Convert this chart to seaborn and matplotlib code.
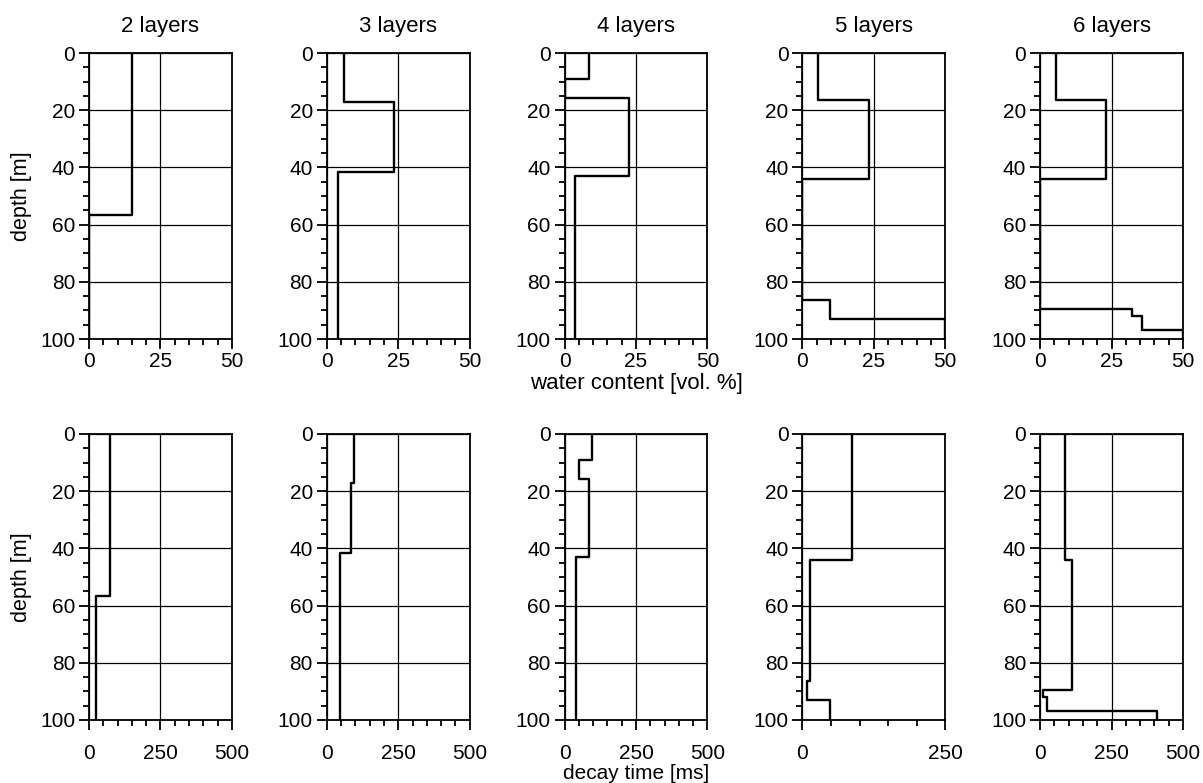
import numpy as np
import pandas as pd
import matplotlib
matplotlib.use("Agg")
import matplotlib.pyplot as plt
from matplotlib.ticker import MultipleLocator
import seaborn as sns

# layer models (depth of layer bottoms in m)
titles = ["2 layers", "3 layers", "4 layers", "5 layers", "6 layers"]

boundaries = [
    [56.5],
    [17.0, 41.6],
    [9.1, 15.6, 43.1],
    [16.5, 44.0, 86.5, 93.0],
    [16.5, 44.0, 89.4, 92.0, 97.0],
]

water = [
    [15.2, 0.0],
    [5.9, 23.5, 4.0],
    [8.7, 0.0, 22.7, 3.6],
    [5.6, 23.2, 0.0, 9.8, 50.0],
    [5.5, 23.2, 0.0, 32.3, 35.8, 50.0],
]

decay = [
    [74, 24],
    [95, 86, 46],
    [96, 50, 86, 39],
    [87, 87, 14, 8, 49],
    [88, 88, 110, 9, 24, 409],
]

decay_xmax = [500, 500, 500, 250, 500]
max_depth = 100

sns.set_style("ticks")
plt.rcParams['font.family'] = ['Liberation Sans', 'DejaVu Sans']
plt.rcParams['font.size'] = 15
plt.rcParams['axes.linewidth'] = 1.3
plt.rcParams['axes.edgecolor'] = 'black'
plt.rcParams['text.color'] = 'black'
plt.rcParams['axes.labelcolor'] = 'black'
plt.rcParams['xtick.color'] = 'black'
plt.rcParams['ytick.color'] = 'black'


def step_profile(values, bounds):
    # turn layer values + interfaces into a step path (value, depth)
    tops = [0] + list(bounds)
    bots = list(bounds) + [max_depth]
    xs, ys = [], []
    for v, t, b in zip(values, tops, bots):
        xs += [v, v]
        ys += [t, b]
    return pd.DataFrame({"value": xs, "depth": ys})


def style_axis(ax, xmax, xmajor, xminor, xpad):
    ax.set_xlim(0, xmax)
    ax.set_ylim(max_depth, 0)
    ax.xaxis.set_major_locator(MultipleLocator(xmajor))
    ax.xaxis.set_minor_locator(MultipleLocator(xminor))
    ax.yaxis.set_major_locator(MultipleLocator(20))
    ax.yaxis.set_minor_locator(MultipleLocator(5))
    ax.tick_params(which='major', length=7, width=1.3, color='black',
                   labelsize=15, labelcolor='black')
    ax.tick_params(which='minor', length=4, width=1.3, color='black')
    ax.tick_params(axis='y', which='major', pad=3)
    ax.tick_params(axis='x', which='major', pad=xpad)
    ax.grid(True, which='major', color='black', lw=0.9)
    for s in ax.spines.values():
        s.set_visible(True)
        s.set_color('black')
    ax.set_xlabel("")
    ax.set_ylabel("")


fig, axes = plt.subplots(2, 5, figsize=(12.03, 7.83), dpi=100)
fig.subplots_adjust(left=0.074, right=0.9834, top=0.9323, bottom=0.0805,
                    wspace=0.664, hspace=0.332)

for i in range(5):
    ax = axes[0, i]
    df = step_profile(water[i], boundaries[i])
    sns.lineplot(data=df, x="value", y="depth", sort=False, estimator=None,
                 color='black', lw=1.7, ax=ax)
    style_axis(ax, 50, 25, 5, 2)
    ax.set_title(titles[i], pad=15, fontsize=16, color='black')

    ax = axes[1, i]
    df = step_profile(decay[i], boundaries[i])
    sns.lineplot(data=df, x="value", y="depth", sort=False, estimator=None,
                 color='black', lw=1.7, ax=ax)
    style_axis(ax, decay_xmax[i], 250, 50, 10)

axes[0, 0].set_ylabel("depth [m]", labelpad=6, fontsize=15.5)
axes[1, 0].set_ylabel("depth [m]", labelpad=6, fontsize=15.5)
axes[0, 2].set_xlabel("water content [vol. %]", labelpad=2, fontsize=16)
axes[1, 2].set_xlabel("decay time [ms]", labelpad=1, fontsize=15)

fig.savefig("out.png", dpi=100)
